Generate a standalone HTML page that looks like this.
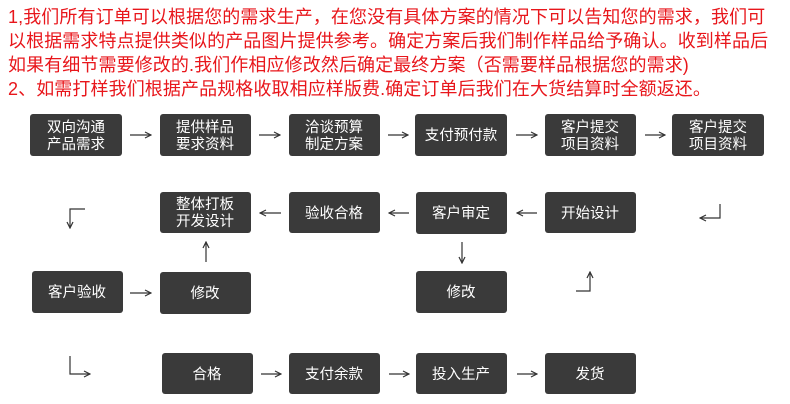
<!DOCTYPE html>
<html><head><meta charset="utf-8"><style>
html,body{margin:0;padding:0;background:#fff;width:790px;height:404px;overflow:hidden}
.t{position:absolute;left:8px;top:5px;color:#e8161b;font-family:"Liberation Sans","Noto Sans CJK SC",sans-serif;font-size:18px;line-height:24px;white-space:nowrap;letter-spacing:0.1px}
svg{position:absolute;left:0;top:0}
svg text{font-family:"Liberation Sans","Noto Sans CJK SC",sans-serif;font-size:14.5px;fill:#fff;text-anchor:middle}
</style></head><body>
<div class="t">1,我们所有订单可以根据您的需求生产，在您没有具体方案的情况下可以告知您的需求，我们可<br>以根据需求特点提供类似的产品图片提供参考。确定方案后我们制作样品给予确认。收到样品后<br>如果有细节需要修改的.我们作相应修改然后确定最终方案（否需要样品根据您的需求)<br>2、如需打样我们根据产品规格收取相应样版费.确定订单后我们在大货结算时全额返还。</div>
<svg width="790" height="404" viewBox="0 0 790 404">
<defs><marker id="a" markerWidth="8" markerHeight="8" refX="7" refY="4" orient="auto" markerUnits="userSpaceOnUse"><path d="M1,1 L7,4 L1,7" fill="none" stroke="#333" stroke-width="1.2"/></marker></defs>
<g fill="#3a3a3a">
<rect x="30" y="114" width="92" height="42" rx="3"/>
<rect x="160" y="114" width="91" height="42" rx="3"/>
<rect x="289" y="114" width="91" height="42" rx="3"/>
<rect x="415" y="114" width="92" height="42" rx="3"/>
<rect x="545" y="114" width="91" height="42" rx="3"/>
<rect x="672" y="114" width="92" height="42" rx="3"/>
<rect x="160" y="192" width="91" height="41" rx="3"/>
<rect x="289" y="192" width="91" height="41" rx="3"/>
<rect x="416" y="192" width="91" height="42" rx="3"/>
<rect x="545" y="192" width="91" height="41" rx="3"/>
<rect x="32" y="271" width="91" height="42" rx="3"/>
<rect x="160" y="272" width="91" height="42" rx="3"/>
<rect x="416" y="271" width="91" height="42" rx="3"/>
<rect x="162" y="353" width="91" height="41" rx="3"/>
<rect x="289" y="353" width="91" height="41" rx="3"/>
<rect x="416" y="353" width="91" height="41" rx="3"/>
<rect x="545" y="353" width="91" height="41" rx="3"/>
</g>
<text x="76" y="132">双向沟通</text><text x="76" y="149">产品需求</text>
<text x="205" y="132">提供样品</text><text x="205" y="149">要求资料</text>
<text x="334" y="132">洽谈预算</text><text x="334" y="149">制定方案</text>
<text x="461" y="140">支付预付款</text>
<text x="590" y="132">客户提交</text><text x="590" y="149">项目资料</text>
<text x="718" y="132">客户提交</text><text x="718" y="149">项目资料</text>
<text x="205" y="209">整体打板</text><text x="205" y="226">开发设计</text>
<text x="334" y="218">验收合格</text>
<text x="461" y="218">客户审定</text>
<text x="590" y="218">开始设计</text>
<text x="77" y="297">客户验收</text>
<text x="205" y="298">修改</text>
<text x="461" y="297">修改</text>
<text x="207" y="379">合格</text>
<text x="334" y="379">支付余款</text>
<text x="461" y="379">投入生产</text>
<text x="590" y="379">发货</text>
<g stroke="#333" stroke-width="1.2" fill="none" marker-end="url(#a)">
<line x1="130" y1="135" x2="151" y2="135"/>
<line x1="259" y1="135" x2="280" y2="135"/>
<line x1="388" y1="135" x2="408" y2="135"/>
<line x1="516" y1="135" x2="537" y2="135"/>
<line x1="645" y1="135" x2="665" y2="135"/>
<line x1="281" y1="213" x2="260" y2="213"/>
<line x1="409" y1="213" x2="389" y2="213"/>
<line x1="537" y1="213" x2="517" y2="213"/>
<line x1="206" y1="262" x2="206" y2="242"/>
<line x1="462" y1="242" x2="462" y2="263"/>
<line x1="130" y1="293" x2="151" y2="293"/>
<line x1="261" y1="374" x2="281" y2="374"/>
<line x1="389" y1="374" x2="409" y2="374"/>
<line x1="517" y1="374" x2="537" y2="374"/>
<polyline points="85,209 70,209 70,228"/>
<polyline points="720,204 720,218 700,218"/>
<polyline points="576,291 590,291 590,272"/>
<polyline points="70,356 70,374 90,374"/>
</g>
</svg>
</body></html>
